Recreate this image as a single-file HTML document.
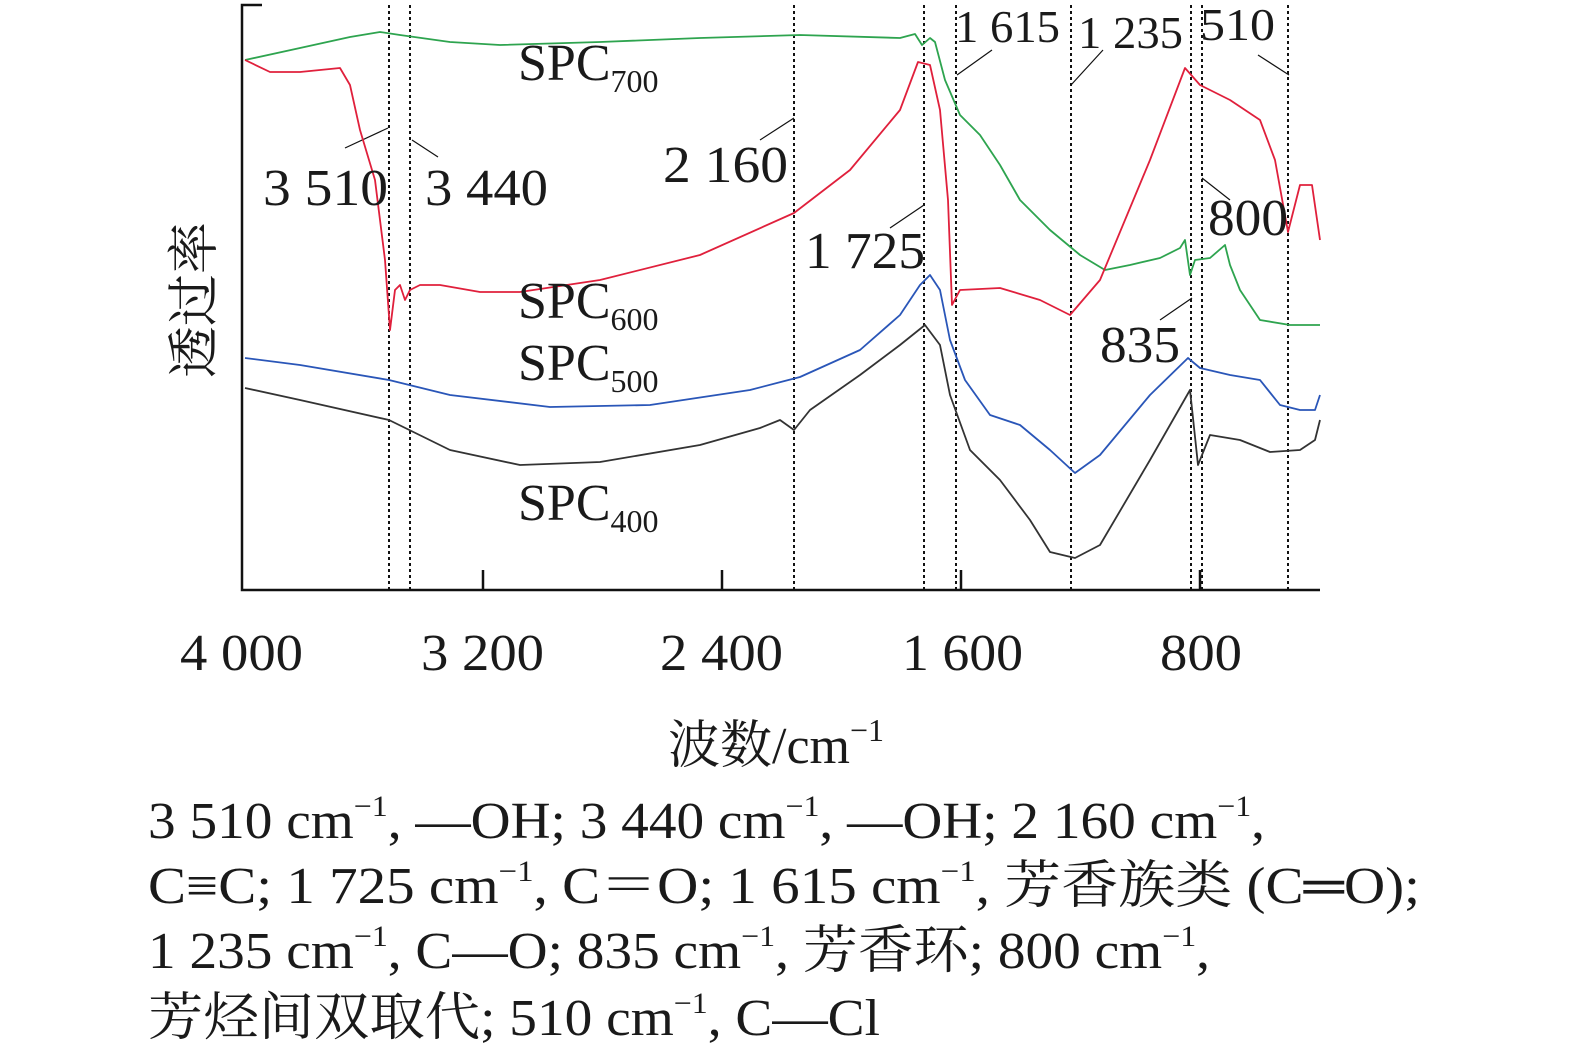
<!DOCTYPE html>
<html><head><meta charset="utf-8"><style>
html,body{margin:0;padding:0;background:#fff;overflow:hidden}
svg{display:block}
svg text{font-family:"Liberation Serif","Noto Serif CJK SC",serif;fill:#1a1a1a}
</style></head><body>
<svg width="1575" height="1058" viewBox="0 0 1575 1058" xmlns="http://www.w3.org/2000/svg">
<g stroke="#111" stroke-width="2.5" fill="none">
<polyline points="262,5 242,5 242,590 1320,590"/>
<line x1="483" y1="570" x2="483" y2="590"/><line x1="722" y1="570" x2="722" y2="590"/>
<line x1="961" y1="570" x2="961" y2="590"/><line x1="1200" y1="570" x2="1200" y2="590"/>
</g>
<g stroke="#111" stroke-width="2" stroke-dasharray="3,3">
<line x1="389" y1="5" x2="389" y2="590"/><line x1="410" y1="5" x2="410" y2="590"/>
<line x1="794" y1="5" x2="794" y2="590"/><line x1="924" y1="5" x2="924" y2="590"/>
<line x1="956" y1="5" x2="956" y2="590"/><line x1="1071" y1="5" x2="1071" y2="590"/>
<line x1="1191" y1="5" x2="1191" y2="590"/><line x1="1202" y1="5" x2="1202" y2="590"/>
<line x1="1288" y1="5" x2="1288" y2="590"/>
</g>
<g stroke="#111" stroke-width="1.2">
<line x1="345" y1="148" x2="388" y2="128"/><line x1="412" y1="140" x2="438" y2="157"/>
<line x1="760" y1="140" x2="794" y2="118"/><line x1="890" y1="228" x2="924" y2="205"/>
<line x1="957" y1="75" x2="992" y2="50"/><line x1="1071" y1="85" x2="1103" y2="50"/>
<line x1="1258" y1="55" x2="1289" y2="75"/><line x1="1202" y1="178" x2="1230" y2="200"/>
<line x1="1160" y1="320" x2="1192" y2="298"/>
</g>
<g fill="none" stroke-width="1.8" stroke-linejoin="round">
<polyline stroke="#2ea44f" points="245,60 300,48 350,37 380,32 400,35 450,42 500,45 600,42 700,38 800,35 900,38 915,34 922,45 930,38 935,42 945,80 960,115 980,135 1000,165 1020,200 1050,230 1080,255 1105,270 1130,265 1160,258 1180,248 1185,240 1190,275 1195,260 1210,258 1225,245 1230,265 1240,290 1260,320 1290,325 1320,325"/>
<polyline stroke="#e0203c" points="245,60 270,72 300,72 340,68 350,85 360,130 375,180 385,260 390,330 395,290 400,285 405,300 410,290 420,285 440,285 480,292 520,292 600,280 700,255 794,213 850,170 900,110 918,62 930,65 940,110 948,200 952,305 960,290 1000,288 1040,300 1070,315 1100,280 1150,160 1185,68 1200,85 1230,100 1260,120 1275,160 1288,232 1300,185 1312,185 1320,240"/>
<polyline stroke="#2a56b8" points="245,358 300,365 389,380 450,395 550,407 650,405 750,390 800,377 860,350 900,315 920,285 930,275 940,290 950,340 965,380 990,415 1020,425 1050,450 1075,473 1100,455 1150,395 1188,358 1200,368 1230,375 1260,380 1280,405 1300,410 1315,410 1320,395"/>
<polyline stroke="#333" points="245,388 300,400 389,420 450,450 520,465 600,462 700,445 760,428 780,420 794,430 810,410 860,375 900,345 925,325 940,345 950,395 970,450 1000,480 1030,520 1050,552 1075,558 1100,545 1150,460 1190,390 1198,465 1210,435 1240,440 1270,452 1300,450 1315,440 1320,420"/>
</g>
<g font-size="52">
<text x="263" y="205" textLength="125" lengthAdjust="spacingAndGlyphs">3 510</text>
<text x="425" y="205" textLength="123" lengthAdjust="spacingAndGlyphs">3 440</text>
<text x="663" y="182" textLength="125" lengthAdjust="spacingAndGlyphs">2 160</text>
<text x="805" y="268" textLength="120" lengthAdjust="spacingAndGlyphs">1 725</text>
<text x="1100" y="362" textLength="80" lengthAdjust="spacingAndGlyphs">835</text>
<text x="1208" y="235" textLength="80" lengthAdjust="spacingAndGlyphs">800</text>
<text x="518" y="80">SPC<tspan font-size="32" dy="12">700</tspan></text>
<text x="518" y="318">SPC<tspan font-size="32" dy="12">600</tspan></text>
<text x="518" y="380">SPC<tspan font-size="32" dy="12">500</tspan></text>
<text x="518" y="520">SPC<tspan font-size="32" dy="12">400</tspan></text>
<text x="180" y="670" textLength="123" lengthAdjust="spacingAndGlyphs">4 000</text>
<text x="421" y="670" textLength="123" lengthAdjust="spacingAndGlyphs">3 200</text>
<text x="660" y="670" textLength="123" lengthAdjust="spacingAndGlyphs">2 400</text>
<text x="902" y="670" textLength="121" lengthAdjust="spacingAndGlyphs">1 600</text>
<text x="1160" y="670" textLength="82" lengthAdjust="spacingAndGlyphs">800</text>
<text x="668" y="763">波数/cm<tspan font-size="32" dy="-22">−1</tspan></text>
<text transform="translate(212,300) rotate(-90)" text-anchor="middle">透过率</text>
</g>
<g font-size="46">
<text x="955" y="42" textLength="105" lengthAdjust="spacingAndGlyphs">1 615</text>
<text x="1078" y="48" textLength="105" lengthAdjust="spacingAndGlyphs">1 235</text>
<text x="1200" y="40" textLength="75" lengthAdjust="spacingAndGlyphs">510</text>
</g>
<g font-size="52">
<text x="148" y="838" textLength="1117" lengthAdjust="spacingAndGlyphs">3 510 cm<tspan font-size="30" dy="-22">−1</tspan><tspan dy="22">, —OH; 3 440 cm</tspan><tspan font-size="30" dy="-22">−1</tspan><tspan dy="22">, —OH; 2 160 cm</tspan><tspan font-size="30" dy="-22">−1</tspan><tspan dy="22">,</tspan></text>
<text x="148" y="903" textLength="1272" lengthAdjust="spacingAndGlyphs">C≡C; 1 725 cm<tspan font-size="30" dy="-22">−1</tspan><tspan dy="22">, C＝O; 1 615 cm</tspan><tspan font-size="30" dy="-22">−1</tspan><tspan dy="22">, 芳香族类 (C═O);</tspan></text>
<text x="148" y="968" textLength="1062" lengthAdjust="spacingAndGlyphs">1 235 cm<tspan font-size="30" dy="-22">−1</tspan><tspan dy="22">, C—O; 835 cm</tspan><tspan font-size="30" dy="-22">−1</tspan><tspan dy="22">, 芳香环; 800 cm</tspan><tspan font-size="30" dy="-22">−1</tspan><tspan dy="22">,</tspan></text>
<text x="148" y="1035" textLength="732" lengthAdjust="spacingAndGlyphs">芳烃间双取代; 510 cm<tspan font-size="30" dy="-22">−1</tspan><tspan dy="22">, C—Cl</tspan></text>
</g>
</svg>
</body></html>
